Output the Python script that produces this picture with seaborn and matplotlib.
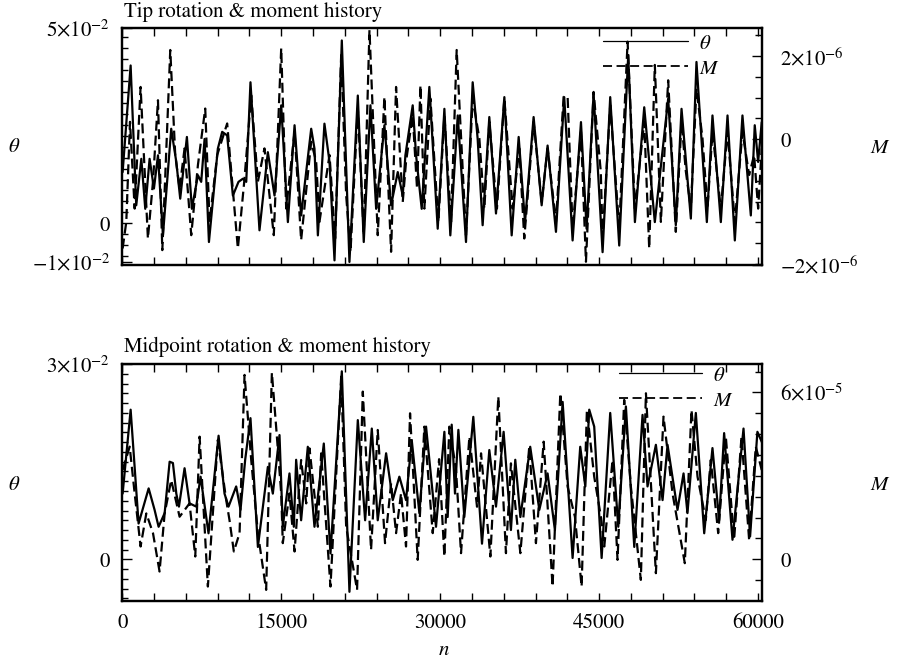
import numpy as np
import matplotlib
matplotlib.use("Agg")
import matplotlib.pyplot as plt
import seaborn as sns
from matplotlib.ticker import MultipleLocator
from matplotlib.lines import Line2D

# ---------------- data ----------------
# Tip: rotation theta (units of 1e-2) and moment M (units of 1e-6)
tip_theta_n = [35, 790, 1320, 1800, 2170, 2580, 2990, 3370, 3840, 4620, 5100, 5470, 6100, 6570, 7140, 7450,
               7770, 8180, 9020, 9430, 9900, 10440, 10970, 11380, 11700, 12100, 12950, 13740, 14370, 15000,
               15630, 16260, 16880, 17830, 18140, 18460, 19080, 19560, 20030, 20720, 21440, 22230, 22790,
               23420, 23960, 24740, 25370, 26000, 26470, 26720, 27410, 27730, 28260, 28980, 29770, 30400,
               30960, 31660, 32440, 33070, 33540, 34010, 34640, 35270, 36060, 36750, 37410, 38010, 38820,
               39580, 40140, 40930, 41710, 42500, 43290, 43820, 44480, 45330, 46050, 46900, 47750, 48380,
               49260, 50260, 51520, 52240, 52780, 53660, 54190, 55170, 55700, 56490, 57120, 57810, 58530,
               59320, 59690, 60010, 60350]
tip_theta_e2 = [1.31, 4.04, 0.46, 1.65, 0.37, 1.65, 0.89, 1.74, -0.31, 2.42, 1.57, 0.63, 2.21, 0.37, 1.23, 1.06,
                2.16, -0.48, 1.91, 2.34, 2.25, 0.71, 1.06, 1.14, 1.06, 3.61, -0.18, 1.82, 0.71, 3.02,
                0.03, 2.51, 0.20, 2.42, 1.91, -0.31, 2.55, 1.57, -0.95, 4.68, -0.99, 3.27, -0.48,
                3.02, 0.37, 2.51, 0.46, 1.31, 0.71, 1.74, 3.02, 1.74, 0.37, 3.49, -0.14, 2.93,
                -0.31, 2.76, -0.48, 3.61, 2.16, -0.05, 2.72, 0.25, 3.23, -0.31, 2.21, 0.03, 2.72,
                0.46, 1.99, -0.22, 3.23, -0.44, 2.59, -0.14, 3.32, -0.74, 3.23, -0.57, 4.30, 0.03,
                2.97, 0.03, 3.19, -0.05, 2.93, 0.12, 4.13, 0.03, 2.76, 0.03, 2.76, -0.44, 2.76,
                0.20, 2.51, 1.57, 2.59]

tip_M_n = [35, 380, 730, 1170, 1730, 2420, 2900, 3370, 3780, 4530, 5000, 5410, 5880, 6510, 7140, 7830, 8240,
           8960, 9900, 10910, 11540, 12170, 12800, 13420, 14300, 15000, 15470, 16260, 16880, 17830, 18300,
           18610, 19560, 20090, 20660, 21130, 21540, 22230, 22790, 23330, 24110, 24740, 25370, 25840, 26470,
           26780, 27410, 27820, 28140, 28510, 29080, 29830, 30400, 31030, 31560, 32440, 33070, 33700, 34170,
           34640, 35360, 36060, 36840, 37470, 37940, 38820, 39580, 40140, 40930, 41650, 42030, 42500, 43290,
           43760, 44480, 45160, 45330, 46050, 46900, 47690, 48380, 49260, 49730, 50260, 50830, 51520, 52240,
           52780, 53190, 53660, 54190, 54760, 55230, 55700, 56490, 57120, 57810, 58530, 59160, 59630, 60010,
           60350]
tip_M_e6 = [-2.63, -1.99, 0.42, -1.67, 1.26, -2.39, -1.02, 0.94, -2.67, 2.15, -0.38, -1.19, -0.22, -2.31, -0.62,
            0.74, -1.99, -0.38, 0.38, -2.63, -0.94, 1.06, -1.02, -0.22, -2.31, 2.19, -1.67, 0.18, -2.43, -0.06,
            -0.54, -1.99, -0.38, -2.39, 2.03, -1.35, -2.71, 0.74, -2.31, 2.63, -2.31, 1.02, -2.71, 1.26, -1.51,
            -0.54, 0.58, -1.19, 1.30, -1.67, 0.98, -1.99, 0.58, -1.99, 2.15, -2.31, 0.98, 0.02, -1.67, 0.42,
            -1.67, 0.98, -1.67, -0.22, -2.39, 0.42, -1.51, -0.22, -1.99, 1.02, 1.02, -2.15, 0.18, -2.95, 1.14,
            -0.78, -2.39, 0.82, -2.15, 2.35, -1.67, 0.42, -2.63, 1.79, -1.99, 1.42, -2.23, 0.42, -0.78, -1.67,
            1.22, 0.02, -1.67, 0.18, -1.67, 0.18, -1.99, 0.18, -0.86, -0.38, -1.67, -0.22]

# Midpoint: rotation theta (units of 1e-2) and moment M (units of 1e-5)
mid_theta_n = [35, 790, 1540, 2490, 3050, 3430, 4000, 4470, 4780, 5100, 5350, 5880, 6350, 6980, 7390, 8140,
               9090, 9650, 10030, 10750, 11160, 11600, 12100, 12800, 13740, 14210, 14840, 15150, 15780, 16190,
               16410, 16880, 17510, 18140, 19020, 19650, 20720, 21440, 22230, 22920, 23550, 24110, 24900,
               25530, 26150, 26780, 27320, 28040, 28670, 29610, 30400, 30710, 31090, 31400, 31720, 32280,
               33130, 33950, 34640, 35270, 35990, 36680, 37090, 37570, 38500, 39360, 40140, 40830, 41560,
               42500, 43220, 43700, 44070, 44540, 45240, 46050, 46810, 47530, 48320, 49100, 49570, 50360,
               50990, 51460, 52400, 52970, 53340, 54130, 54920, 55700, 56330, 56800, 57590, 58630, 59250,
               59940, 60420]
mid_theta_e2 = [1.01, 2.30, 0.55, 1.09, 0.76, 0.50, 0.71, 1.50, 1.48, 1.01, 0.81, 1.40, 0.86, 0.81, 1.27, 0.40,
                1.90, 1.01, 0.81, 1.12, 0.76, 1.53, 2.17, 0.19, 1.42, 1.01, 1.91, 0.50, 1.32, 0.50,
                1.53, 0.60, 1.73, 0.50, 1.78, 0.09, 2.89, -0.50, 2.14, 0.60, 2.01, 0.60, 1.63,
                0.91, 1.27, 0.91, 1.83, 0.71, 2.04, 0.50, 1.96, 0.65, 2.07, 1.01, 1.99, 0.65,
                2.19, 0.24, 1.68, 0.81, 1.96, 0.45, 1.53, 0.65, 1.73, 0.76, 1.32, 0.45, 2.42,
                0.02, 1.73, 1.12, 2.30, 2.04, 0.02, 2.25, 0.50, 2.35, 0.19, 2.22, 1.12, 1.76,
                0.91, 1.76, 0.76, 1.32, 0.71, 2.25, 0.40, 1.71, 0.60, 1.94, 0.30, 2.01, 0.35,
                1.96, 1.78]

mid_M_n = [35, 700, 1170, 1730, 2270, 2900, 3520, 4000, 4620, 5410, 6350, 6890, 7300, 8080, 9020, 9810, 10120,
           10530, 11070, 11540, 12170, 12800, 13580, 14120, 14520, 15000, 15150, 15780, 16260, 16880, 17360,
           17670, 18460, 18770, 19650, 20660, 21130, 22160, 22700, 23480, 24110, 24800, 25370, 25840, 26310,
           26780, 27160, 27880, 28510, 29300, 29900, 30400, 30870, 31500, 31970, 32760, 33480, 33860, 34740,
           35490, 36210, 36680, 37570, 38410, 39040, 39770, 40610, 41340, 42030, 42720, 43350, 43850, 44540,
           45170, 45490, 46270, 46740, 47370, 48000, 48940, 49420, 50360, 51080, 51930, 53090, 53720, 54290,
           55070, 55540, 56240, 56960, 57740, 58440, 59160, 59790, 60350]
mid_M_e5 = [3.21, 4.05, 2.37, 0.46, 1.65, 0.94, -0.44, 1.65, 2.85, 1.53, 2.01, 0.10, 4.41, -0.98, 4.29, 2.13,
            1.41, 0.28, 0.94, 6.63, 3.57, 0.94, -1.10, 6.71, 4.77, 2.37, 0.58, 2.37, 0.28, 3.57, 2.01, 3.99,
            1.17, 3.81, -0.98, 6.57, 1.17, -1.10, 6.03, 0.34, 4.65, 0.58, 2.73, 0.94, 2.37, 0.46, 5.25, -0.02,
            4.77, 0.94, 3.60, 0.10, 4.77, 3.21, 0.22, 4.41, 1.89, 3.81, 0.10, 5.85, 0.22, 3.45, 0.22, 4.05,
            0.58, 4.23, -0.98, 5.97, 2.61, 1.53, -0.98, 5.37, 2.97, 1.53, 0.46, 3.57, -0.02, 5.73, 2.61, -0.74,
            5.97, -0.50, 5.13, 2.37, -0.14, 5.37, 2.97, 1.41, 3.57, 0.94, 4.41, 0.70, 4.41, 0.70, 4.05, 3.21]

titles = ["Tip rotation & moment history", "Midpoint rotation & moment history"]
x_ticks = [0, 15000, 30000, 45000, 60000]

# ---------------- style ----------------
sns.set_theme(style="ticks", rc={"axes.edgecolor": "black", "xtick.color": "black",
                                 "ytick.color": "black", "text.color": "black"})
plt.rcParams["font.family"] = ["STIXGeneral", "DejaVu Serif"]
plt.rcParams["mathtext.fontset"] = "stix"

FS = 15
fig = plt.figure(figsize=(8.97, 6.66), dpi=100)
ax1 = fig.add_axes([0.1363, 0.6026, 0.7135, 0.3554])
ax1r = ax1.twinx()
ax2 = fig.add_axes([0.1363, 0.0980, 0.7135, 0.3562])
ax2r = ax2.twinx()

dash = (0, (4.5, 2.2))
LW = 1.6

sns.lineplot(x=tip_theta_n, y=np.array(tip_theta_e2) * 1e-2, ax=ax1, color="black", linewidth=LW, legend=False)
sns.lineplot(x=tip_M_n, y=np.array(tip_M_e6) * 1e-6, ax=ax1r, color="black", linewidth=LW, legend=False)
ax1r.lines[-1].set_linestyle(dash)
sns.lineplot(x=mid_theta_n, y=np.array(mid_theta_e2) * 1e-2, ax=ax2, color="black", linewidth=LW, legend=False)
sns.lineplot(x=mid_M_n, y=np.array(mid_M_e5) * 1e-5, ax=ax2r, color="black", linewidth=LW, legend=False)
ax2r.lines[-1].set_linestyle(dash)
for ax in (ax1, ax1r, ax2, ax2r):
    for ln in ax.lines:
        ln.set_solid_joinstyle("round")
        ln.set_dash_joinstyle("round")

for ax in (ax1, ax2):
    ax.set_xlim(0, 60400)
    ax.set_xticks(x_ticks)
    ax.xaxis.set_minor_locator(MultipleLocator(3000))
    ax.tick_params(axis="x", which="both", direction="in", top=True, bottom=True,
                   length=6, width=1.0, labelsize=FS, pad=9)
    ax.tick_params(axis="y", which="both", direction="in", left=True, right=False,
                   labelsize=FS, pad=9, width=1.0)
    ax.tick_params(axis="y", which="major", length=7)
    ax.tick_params(axis="y", which="minor", length=4)
    ax.set_xlabel("")
    ax.set_ylabel("")
for ax in (ax1r, ax2r):
    ax.tick_params(axis="y", which="both", direction="in", right=True, left=False,
                   labelsize=FS, pad=13, width=1.0)
    ax.tick_params(axis="y", which="major", length=7)
    ax.tick_params(axis="y", which="minor", length=5)
    ax.set_ylabel("")
for ax in (ax1, ax1r, ax2, ax2r):
    for s in ax.spines.values():
        s.set_linewidth(1.6)
        s.set_color("black")

ax1.tick_params(axis="x", labelbottom=False)
ax2.set_xticklabels([str(v) for v in x_ticks])

# top panel y axes
ax1.set_ylim(-0.0106, 0.05)
ax1.set_yticks([-0.01, 0, 0.05], [r"$-1{\times}10^{-2}$", "0", r"$5{\times}10^{-2}$"])
ax1.yaxis.set_minor_locator(MultipleLocator(0.0028))
ax1r.set_ylim(-3.02e-6, 2.68e-6)
ax1r.set_yticks([-3.02e-6, 0, 2e-6], [r"$-2{\times}10^{-6}$", "0", r"$2{\times}10^{-6}$"])
ax1r.yaxis.set_minor_locator(MultipleLocator(0.5e-6))

# bottom panel y axes
ax2.set_ylim(-0.00637, 0.0301)
ax2.set_yticks([0, 0.03], ["0", r"$3{\times}10^{-2}$"])
ax2.yaxis.set_minor_locator(MultipleLocator(0.0015))
ax2r.set_ylim(-1.49e-5, 7.04e-5)
ax2r.set_yticks([0, 6e-5], ["0", r"$6{\times}10^{-5}$"])
ax2r.yaxis.set_minor_locator(MultipleLocator(0.75e-5))

# legends
handles = [Line2D([], [], color="black", linewidth=0.9),
           Line2D([], [], color="black", linewidth=1.3, linestyle=(0, (5, 2.5)))]
labels = [r"$\theta$", r"$M$"]
ax1r.legend(handles, labels, loc="upper left", bbox_to_anchor=(0.751, 0.975), frameon=False,
            fontsize=FS, handlelength=4.1, handletextpad=0.5, labelspacing=0.25,
            borderpad=0, borderaxespad=0)
ax2r.legend(handles, labels, loc="upper left", bbox_to_anchor=(0.776, 0.99), frameon=False,
            fontsize=FS, handlelength=4.0, handletextpad=0.5, labelspacing=0.25,
            borderpad=0, borderaxespad=0)

# titles and axis labels
W, H = 897.0, 666.0
fig.text(124 / W, 1 - 12 / H, titles[0], ha="left", va="center", fontsize=FS)
fig.text(124 / W, 1 - 347 / H, titles[1], ha="left", va="center", fontsize=FS)
fig.text(14 / W, 1 - 147 / H, r"$\theta$", ha="center", va="center", fontsize=FS)
fig.text(14 / W, 1 - 485 / H, r"$\theta$", ha="center", va="center", fontsize=FS)
fig.text(880 / W, 1 - 148 / H, r"$M$", ha="center", va="center", fontsize=FS)
fig.text(880 / W, 1 - 485 / H, r"$M$", ha="center", va="center", fontsize=FS)
fig.text(444 / W, 1 - 650 / H, r"$n$", ha="center", va="center", fontsize=FS)

fig.savefig("out.png", dpi=100, facecolor="white")
